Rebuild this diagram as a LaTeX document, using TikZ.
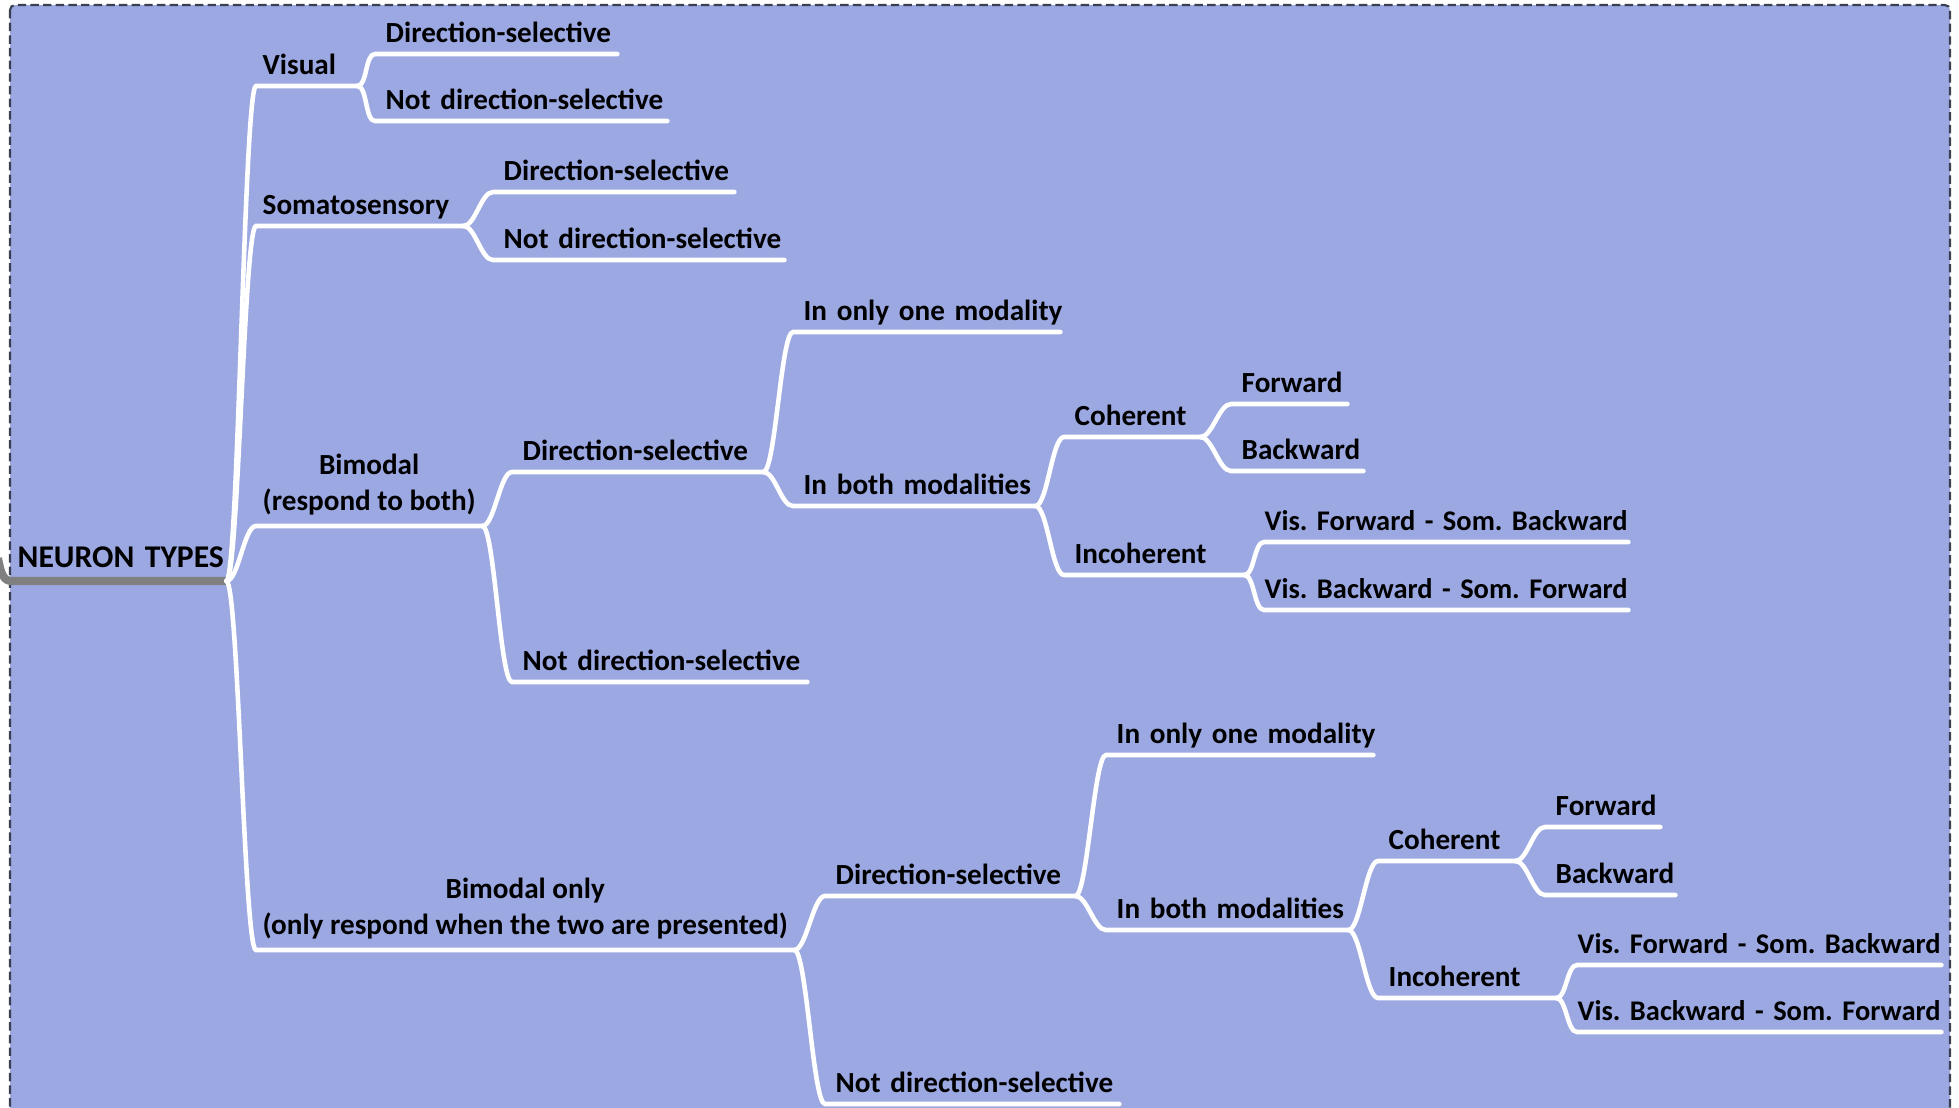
\documentclass[tikz,border=0pt]{standalone}
\usepackage{fontspec}
\setmainfont{Carlito}
\frenchspacing
\usetikzlibrary{positioning}
\definecolor{mapblue}{RGB}{155,168,226}
\definecolor{framegray}{RGB}{58,64,80}
\definecolor{stemgray}{RGB}{128,128,128}

\begin{document}
\begin{tikzpicture}[>=latex]
    \tikzset{twoline/.style= {anchor=south west, inner xsep=0cm, inner ysep=0.1cm, align=center, font={\bfseries\fontsize{8.3}{10.3}\selectfont}} }
    \tikzset{topic/.style= {twoline, inner xsep=0.1cm, inner ysep=0.11cm, text depth=0pt, align=left, execute at begin node={\hbox to 0pt\bgroup}, execute at end node={\hss\egroup}} }
    \tikzset{firstlevel/.style= {topic, inner xsep=0.06cm} }
    \tikzset{leaf/.style= {topic, inner xsep=0.0cm, font={\bfseries\fontsize{8.1}{10}\selectfont}} }
    \tikzset{rootbox/.style= {topic, inner xsep=0.05cm, inner ysep=0.13cm, font={\bfseries\fontsize{9}{11}\selectfont}} }
    \tikzset{branch/.style= {draw=white, line width=1.3pt, line cap=round} }
    \tikzset{stemline/.style= {draw=stemgray, line width=2.3pt} }
    \tikzset{frame/.style= {draw=framegray, fill=mapblue, line width=0.6pt, dash pattern=on 2.4pt off 1.2pt, rounded corners=0.05cm} }

    \clip (0,0) rectangle (19.59,-11.07);
    \path[frame] (0.10,-0.05) rectangle (19.50,-11.6);

    % root
    \node[rootbox, text width=2.03cm] (types) at (0.12,-5.81) {NEURON TYPES};
    \coordinate (stem) at (-0.02,-5.58);
    \path[stemline] (stem) .. controls +(0.03,-0.17) and +(-0.08,0) .. (types.south west) -- (types.south east);

    % first level
    \node[firstlevel, text width=0.88cm] (vis) at (2.56,-0.86) {Visual};
    \node[firstlevel, text width=1.94cm] (som) at (2.56,-2.26) {Somatosensory};
    \node[twoline, minimum width=2.25cm] (bim) at (2.56,-5.26) {Bimodal\\(respond to both)};
    \node[twoline, minimum width=5.37cm] (bio) at (2.56,-9.50) {Bimodal only\\(only respond when the two are presented)};

    % visual, somatosensory
    \node[topic, text width=2.21cm] (vis-ds) at (3.75,-0.54) {Direction-selective};
    \node[topic, text width=2.71cm] (vis-nd) at (3.75,-1.21) {Not direction-selective};
    \node[topic, text width=2.20cm] (som-ds) at (4.93,-1.92) {Direction-selective};
    \node[topic, text width=2.70cm] (som-nd) at (4.93,-2.60) {Not direction-selective};

    % bimodal
    \node[topic, text width=2.30cm] (bim-ds) at (5.12,-4.72) {Direction-selective};
    \node[topic, text width=2.74cm] (bim-nd) at (5.12,-6.82) {Not direction-selective};
    \node[topic, text width=2.46cm] (bim-one) at (7.93,-3.32) {In only one modality};
    \node[topic, text width=2.21cm] (bim-both) at (7.93,-5.06) {In both modalities};
    \node[topic, text width=1.15cm] (bim-coh) at (10.64,-4.37) {Coherent};
    \node[topic, text width=1.59cm] (bim-inc) at (10.64,-5.75) {Incoherent};
    \node[topic, text width=0.95cm] (bim-fw) at (12.31,-4.04) {Forward};
    \node[topic, text width=1.11cm] (bim-bw) at (12.31,-4.71) {Backward};
    \node[leaf, text width=3.63cm] (bim-vfsb) at (12.64,-5.42) {Vis. Forward - Som. Backward};
    \node[leaf, text width=3.63cm] (bim-vbsf) at (12.64,-6.10) {Vis. Backward - Som. Forward};

    % bimodal only
    \node[topic, text width=2.29cm] (bio-ds) at (8.25,-8.96) {Direction-selective};
    \node[topic, text width=2.73cm] (bio-nd) at (8.25,-11.04) {Not direction-selective};
    \node[topic, text width=2.46cm] (bio-one) at (11.06,-7.55) {In only one modality};
    \node[topic, text width=2.21cm] (bio-both) at (11.06,-9.30) {In both modalities};
    \node[topic, text width=1.16cm] (bio-coh) at (13.78,-8.61) {Coherent};
    \node[topic, text width=1.57cm] (bio-inc) at (13.78,-9.98) {Incoherent};
    \node[topic, text width=0.94cm] (bio-fw) at (15.45,-8.27) {Forward};
    \node[topic, text width=1.09cm] (bio-bw) at (15.45,-8.95) {Backward};
    \node[leaf, text width=3.63cm] (bio-vfsb) at (15.77,-9.65) {Vis. Forward - Som. Backward};
    \node[leaf, text width=3.63cm] (bio-vbsf) at (15.77,-10.32) {Vis. Backward - Som. Forward};

    \path[branch] (types.south east) .. controls +(0.12,0) and +(-0.12,0) .. (vis.south west) -- (vis.south east);
    \path[branch] (types.south east) .. controls +(0.12,0) and +(-0.12,0) .. (som.south west) -- (som.south east);
    \path[branch] (types.south east) .. controls +(0.12,0) and +(-0.12,0) .. (bim.south west) -- (bim.south east);
    \path[branch] (types.south east) .. controls +(0.12,0) and +(-0.12,0) .. (bio.south west) -- (bio.south east);

    \path[branch] (vis.south east) .. controls +(0.1,0) and +(-0.1,0) .. (vis-ds.south west) -- (vis-ds.south east);
    \path[branch] (vis.south east) .. controls +(0.1,0) and +(-0.1,0) .. (vis-nd.south west) -- (vis-nd.south east);
    \path[branch] (som.south east) .. controls +(0.12,0) and +(-0.12,0) .. (som-ds.south west) -- (som-ds.south east);
    \path[branch] (som.south east) .. controls +(0.12,0) and +(-0.12,0) .. (som-nd.south west) -- (som-nd.south east);

    \path[branch] (bim.south east) .. controls +(0.12,0) and +(-0.12,0) .. (bim-ds.south west) -- (bim-ds.south east);
    \path[branch] (bim.south east) .. controls +(0.12,0) and +(-0.12,0) .. (bim-nd.south west) -- (bim-nd.south east);
    \path[branch] (bim-ds.south east) .. controls +(0.12,0) and +(-0.12,0) .. (bim-one.south west) -- (bim-one.south east);
    \path[branch] (bim-ds.south east) .. controls +(0.12,0) and +(-0.12,0) .. (bim-both.south west) -- (bim-both.south east);
    \path[branch] (bim-both.south east) .. controls +(0.12,0) and +(-0.12,0) .. (bim-coh.south west) -- (bim-coh.south east);
    \path[branch] (bim-both.south east) .. controls +(0.12,0) and +(-0.12,0) .. (bim-inc.south west) -- (bim-inc.south east);
    \path[branch] (bim-coh.south east) .. controls +(0.12,0) and +(-0.12,0) .. (bim-fw.south west) -- (bim-fw.south east);
    \path[branch] (bim-coh.south east) .. controls +(0.12,0) and +(-0.12,0) .. (bim-bw.south west) -- (bim-bw.south east);
    \path[branch] (bim-inc.south east) .. controls +(0.1,0) and +(-0.1,0) .. (bim-vfsb.south west) -- (bim-vfsb.south east);
    \path[branch] (bim-inc.south east) .. controls +(0.1,0) and +(-0.1,0) .. (bim-vbsf.south west) -- (bim-vbsf.south east);

    \path[branch] (bio.south east) .. controls +(0.12,0) and +(-0.12,0) .. (bio-ds.south west) -- (bio-ds.south east);
    \path[branch] (bio.south east) .. controls +(0.12,0) and +(-0.12,0) .. (bio-nd.south west) -- (bio-nd.south east);
    \path[branch] (bio-ds.south east) .. controls +(0.12,0) and +(-0.12,0) .. (bio-one.south west) -- (bio-one.south east);
    \path[branch] (bio-ds.south east) .. controls +(0.12,0) and +(-0.12,0) .. (bio-both.south west) -- (bio-both.south east);
    \path[branch] (bio-both.south east) .. controls +(0.12,0) and +(-0.12,0) .. (bio-coh.south west) -- (bio-coh.south east);
    \path[branch] (bio-both.south east) .. controls +(0.12,0) and +(-0.12,0) .. (bio-inc.south west) -- (bio-inc.south east);
    \path[branch] (bio-coh.south east) .. controls +(0.12,0) and +(-0.12,0) .. (bio-fw.south west) -- (bio-fw.south east);
    \path[branch] (bio-coh.south east) .. controls +(0.12,0) and +(-0.12,0) .. (bio-bw.south west) -- (bio-bw.south east);
    \path[branch] (bio-inc.south east) .. controls +(0.1,0) and +(-0.1,0) .. (bio-vfsb.south west) -- (bio-vfsb.south east);
    \path[branch] (bio-inc.south east) .. controls +(0.1,0) and +(-0.1,0) .. (bio-vbsf.south west) -- (bio-vbsf.south east);
  \end{tikzpicture}
\end{document}
